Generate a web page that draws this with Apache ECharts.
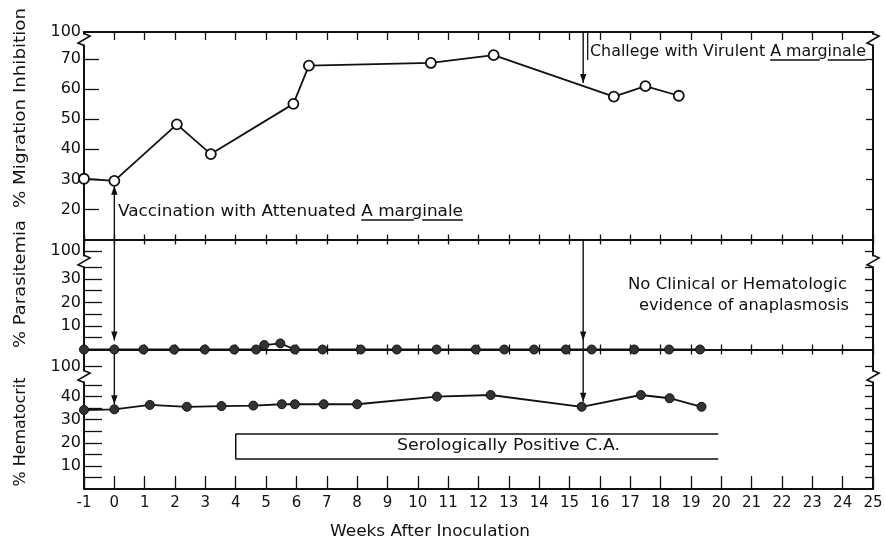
<!DOCTYPE html>
<html><head><meta charset="utf-8">
<script src="https://cdn.jsdelivr.net/npm/echarts@6/dist/echarts.min.js"></script>
<style>html,body{margin:0;padding:0;background:#fff}#c{width:885px;height:543px}</style>
</head><body><div id="c"></div>
<script>
// ---- data ----
const migWeeks  = [-1, 0, 2.06, 3.18, 5.9, 6.41, 10.43, 12.5, 16.46, 17.5, 18.6];
const migValues = [30.2, 29.5, 48.3, 38.4, 55.1, 67.8, 68.7, 71.3, 57.5, 61, 57.8];
const parWeeks  = [-1, 0, 0.96, 1.97, 2.98, 3.95, 4.67, 4.94, 5.47, 5.95, 6.86, 8.12, 9.31, 10.62, 11.91, 12.85, 13.83, 14.88, 15.73, 17.13, 18.28, 19.3];
const parValues = [0, 0, 0, 0, 0, 0, 0, 1.9, 2.6, 0, 0, 0, 0, 0, 0, 0, 0, 0, 0, 0, 0, 0];
const hemWeeks  = [-1, 0, 1.17, 2.39, 3.53, 4.58, 5.52, 5.95, 6.9, 8.0, 10.63, 12.4, 15.4, 17.35, 18.3, 19.35];
const hemValues = [34.2, 34.5, 36.4, 35.6, 35.9, 36.1, 36.7, 36.7, 36.7, 36.7, 40, 40.7, 35.6, 40.7, 39.3, 35.6];
const serologyWeeks  = [19.9, 4, 4, 19.9];
const serologyLevels = [23.8, 23.8, 13, 13];
const vaccinationWeek = 0;
const challengeWeek = 15.45;
// ---- axis ticks / labels (broken axes: top value shown as "100") ----
const migTicks  = [20, 30, 40, 50, 60, 70];
const migLabels = [20, 30, 40, 50, 60, 70, 79];
const parTicks  = [5, 10, 15, 20, 25, 30, 35, 42];
const parLabels = [10, 20, 30, 42];
const hemTicks  = [5, 10, 15, 20, 25, 30, 35, 40, 45, 53];
const hemLabels = [10, 20, 30, 40, 53];
const breakLabel = {79: '100', 42: '100', 53: '100'};

const ink = '#111';
const FONT = 'DejaVu Sans';

function xAx(grid, pos, len, showLabel) {
  return { type: 'value', gridIndex: grid, position: pos, min: -1, max: 25, interval: 1,
    axisLine: {show: true, onZero: false, lineStyle: {color: ink, width: 2}},
    axisTick: {show: true, inside: true, length: len, lineStyle: {color: ink, width: 1.3}},
    axisLabel: {show: showLabel, color: ink, fontSize: 15, fontFamily: FONT, margin: 7},
    splitLine: {show: false} };
}
function yAx(grid, pos, min, max, ticks, labels, len) {
  return { type: 'value', gridIndex: grid, position: pos, min: min, max: max,
    axisLine: {show: true, onZero: false, lineStyle: {color: ink, width: 2}},
    axisTick: {show: true, inside: true, length: len, customValues: ticks, lineStyle: {color: ink, width: 1.3}},
    axisLabel: {show: pos === 'left', customValues: labels, formatter: v => breakLabel[v] || String(v),
      color: ink, fontSize: 16, fontFamily: FONT, margin: 3},
    splitLine: {show: false} };
}
const zip = (a, b) => a.map((v, i) => [v, b[i]]);
const dotStyle = {color: '#333', borderColor: ink, borderWidth: 1};

const option = {
  animation: false,
  backgroundColor: '#fff',
  grid: [
    {left: 84, right: 12, top: 32, height: 207.5, outerBoundsMode: 'none'},
    {left: 84, right: 12, top: 239.5, height: 110, outerBoundsMode: 'none'},
    {left: 84, right: 12, top: 349.5, height: 139.5, outerBoundsMode: 'none'}
  ],
  xAxis: [xAx(0, 'top', 8, false), xAx(0, 'bottom', 5, false), xAx(1, 'top', 5, false),
          xAx(1, 'bottom', 5, false), xAx(2, 'top', 5, false), xAx(2, 'bottom', 13, true)],
  yAxis: [yAx(0, 'left', 10, 79, migTicks, migLabels, 15), yAx(0, 'right', 10, 79, migTicks, migLabels, 7),
          yAx(1, 'left', 0, 46.8, parTicks, parLabels, 18), yAx(1, 'right', 0, 46.8, parTicks, parLabels, 8),
          yAx(2, 'left', 0, 60.4, hemTicks, hemLabels, 18), yAx(2, 'right', 0, 60.4, hemTicks, hemLabels, 8)],
  series: [
    {type: 'line', name: 'Migration Inhibition', xAxisIndex: 1, yAxisIndex: 0, data: zip(migWeeks, migValues),
      symbol: 'circle', symbolSize: 10, clip: false, lineStyle: {color: ink, width: 1.8},
      itemStyle: {color: '#fff', borderColor: ink, borderWidth: 1.8}, z: 5},
    {type: 'line', name: 'Parasitemia', xAxisIndex: 3, yAxisIndex: 2, data: zip(parWeeks, parValues),
      symbol: 'circle', symbolSize: 9, clip: false, lineStyle: {color: ink, width: 1.8}, itemStyle: dotStyle, z: 5},
    {type: 'line', name: 'Hematocrit', xAxisIndex: 5, yAxisIndex: 4, data: zip(hemWeeks, hemValues),
      symbol: 'circle', symbolSize: 9, clip: false, lineStyle: {color: ink, width: 1.8}, itemStyle: dotStyle, z: 5},
    {type: 'line', name: 'Serology', xAxisIndex: 5, yAxisIndex: 4, data: zip(serologyWeeks, serologyLevels),
      symbol: 'none', clip: false, lineStyle: {color: ink, width: 1.5}, z: 4}
  ]
};

const chart = echarts.init(document.getElementById('c'), null, {renderer: 'canvas'});
chart.setOption(option);

const cs = [{xAxisIndex: 1, yAxisIndex: 0}, {xAxisIndex: 3, yAxisIndex: 2}, {xAxisIndex: 5, yAxisIndex: 4}];
const P = (g, x, y) => chart.convertToPixel(cs[g], [x, y]);
const ctx = document.createElement('canvas').getContext('2d');
function tw(t, font) { ctx.font = font; return ctx.measureText(t).width; }
const G = [];
function line(x1, y1, x2, y2, w) {
  G.push({type: 'line', silent: true, z: 20, shape: {x1, y1, x2, y2}, style: {stroke: ink, lineWidth: w || 1.4}});
}
function arrow(x, tip, dir) {
  G.push({type: 'polygon', silent: true, z: 21,
    shape: {points: [[x, tip], [x - 3.2, tip - 9 * dir], [x + 3.2, tip - 9 * dir]]}, style: {fill: ink}});
}
function text(t, x, y, target, size, align, rot) {
  const font = size + 'px "' + FONT + '"';
  const s = target / tw(t, font);
  G.push({type: 'text', silent: true, z: 22, x, y, rotation: rot || 0, scaleX: s,
    style: {text: t, font, fill: ink, textAlign: align, textVerticalAlign: 'middle', align: align, verticalAlign: 'middle'}});
  return {s, font};
}
function brk(x, y) {
  G.push({type: 'rect', silent: true, z: 23, shape: {x: x - 3, y: y - 5, width: 6, height: 10}, style: {fill: '#fff'}});
  G.push({type: 'polyline', silent: true, z: 24, shape: {points: [[x, y - 6], [x + 6, y - 3.5], [x - 6, y + 3.5], [x, y + 6]]},
    style: {stroke: ink, lineWidth: 1.6, fill: null}});
}

// Vaccination arrows (week 0)
{
  const top = P(0, vaccinationWeek, migValues[1]);
  const mid = P(1, vaccinationWeek, parValues[1]);
  const bot = P(2, vaccinationWeek, hemValues[1]);
  const x = top[0];
  line(x, top[1] + 5, x, mid[1] - 9);
  arrow(x, top[1] + 5, -1);
  arrow(x, mid[1] - 9, 1);
  line(x, mid[1] + 4, x, bot[1] - 5);
  arrow(x, bot[1] - 5, 1);
}
// Challenge arrows
{
  let k = 0; while (migWeeks[k + 1] < challengeWeek) k++;
  const f = (challengeWeek - migWeeks[k]) / (migWeeks[k + 1] - migWeeks[k]);
  const v = migValues[k] + f * (migValues[k + 1] - migValues[k]);
  const onLine = P(0, challengeWeek, v);
  const topY = P(0, challengeWeek, 79)[1];
  const x = onLine[0];
  line(x, topY, x, onLine[1] - 3);
  arrow(x, onLine[1] - 3, 1);
  const m0 = P(1, challengeWeek, 46.8), m1 = P(1, challengeWeek, 0);
  const b1 = P(2, challengeWeek, hemValues[12]);
  line(x, m0[1], x, b1[1] - 5);
  arrow(x, m1[1] - 9, 1);
  arrow(x, b1[1] - 5, 1);
  line(x + 4.5, topY, x + 4.5, topY + 28, 1.3);
}

// Annotation texts
{
  const t1 = 'Vaccination with Attenuated ', u = 'A marginale';
  const r = text(t1 + u, 118, 212, 345, 15, 'left');
  const x0 = 118 + r.s * tw(t1, r.font);
  line(x0, 220, x0 + r.s * tw('A mar', r.font) + 2, 220, 1.3);
  line(x0 + r.s * tw('A marg', r.font), 220, x0 + r.s * tw(u, r.font), 220, 1.3);
}
{
  const t1 = 'Challege with Virulent ', u = 'A marginale';
  const r = text(t1 + u, 590, 52, 276, 15, 'left');
  const x0 = 590 + r.s * tw(t1, r.font);
  line(x0, 60, x0 + r.s * tw('A mar', r.font) + 2, 60, 1.3);
  line(x0 + r.s * tw('A marg', r.font), 60, x0 + r.s * tw(u, r.font), 60, 1.3);
}
text('No Clinical or Hematologic', 847, 285, 219, 15, 'right');
text('evidence of anaplasmosis', 849, 306, 210, 15, 'right');
text('Serologically Positive C.A.', 397, 446, 223, 15, 'left');
// axis names
text('% Migration Inhibition', 21, 108, 200, 16, 'center', Math.PI / 2);
text('% Parasitemia', 21, 284, 128, 16, 'center', Math.PI / 2);
text('% Hematocrit', 21, 432, 109, 16, 'center', Math.PI / 2);
text('Weeks After Inoculation', 430, 532, 200, 15, 'center');

// axis breaks
{
  const L = P(0, -1, 76.5)[0], R = P(0, 25, 76.5)[0];
  const y1 = P(0, 0, 76.5)[1], y2 = P(1, 0, 37.5)[1], y3 = P(2, 0, 48.7)[1];
  [y1, y2, y3].forEach(y => { brk(L, y); brk(R, y); });
}

chart.setOption({graphic: {elements: G}});
</script>
</body></html>
